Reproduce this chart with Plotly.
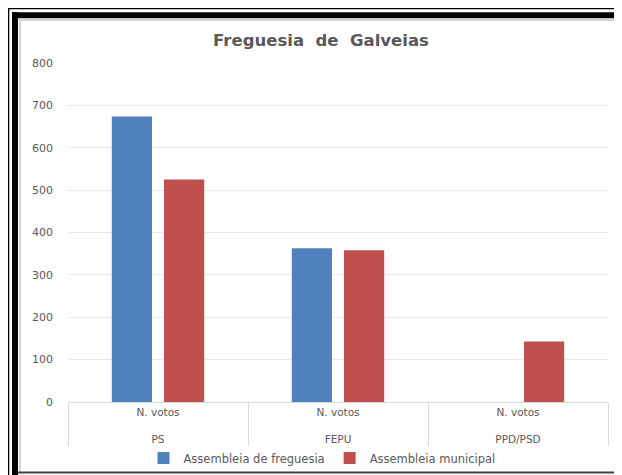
import plotly.graph_objects as go

# ---- data ----
parties = ["PS", "FEPU", "PPD/PSD"]
measure = ["N. votos<br> ", "N. votos<br> ", "N. votos<br> "]
assembleia_freguesia = [674, 363, None]
assembleia_municipal = [525, 358, 143]
y_ticks = [0, 100, 200, 300, 400, 500, 600, 700, 800]

OFF = 8  # page body margin
W, H = 622 - OFF, 475 - OFF
# plot area in page pixels: x 68..608, y 63..402
L, R = 68 - OFF, W - (608 - OFF)
T, B = 63 - OFF, H - (402 - OFF)
PW, PH = W - L - R, H - T - B

def px(x):  # page x -> paper
    return (x - OFF - L) / PW

def py(y):  # page y -> paper
    return (H - B - (y - OFF)) / PH

FONT = "DejaVu Sans"
GREY = "#595959"

fig = go.Figure()
fig.add_trace(go.Bar(
    name="Assembleia de freguesia",
    x=[parties, measure], y=assembleia_freguesia,
    marker=dict(color="#4f81bd", line=dict(width=0)),
))
fig.add_trace(go.Bar(
    name="Assembleia municipal",
    x=[parties, measure], y=assembleia_municipal,
    marker=dict(color="#c0504d", line=dict(width=0)),
))

def rect(x0, x1, y0, y1, color):
    return dict(type="rect", xref="paper", yref="paper",
                x0=px(x0), x1=px(x1), y0=py(y0), y1=py(y1),
                fillcolor=color, line=dict(width=0), layer="above")

shapes = [
    rect(7.3, 9.3, 7.5, 475, "black"),      # outer thin left
    rect(7.3, 622, 7.5, 9.3, "black"),      # outer thin top
    rect(12, 18, 12.3, 475, "black"),       # thick left
    rect(12, 622, 12.3, 18.3, "black"),     # thick top
    rect(19, 21, 19, 472, "#d4d4d4"),       # inner grey left
    rect(19, 622, 19, 21, "#d4d4d4"),       # inner grey top
    rect(18, 622, 471.5, 473.5, "#404040"), # bottom line
]

fig.update_layout(
    width=W, height=H,
    margin=dict(l=L, r=R, t=T, b=B, autoexpand=False),
    paper_bgcolor="white", plot_bgcolor="white",
    barmode="group", bargap=0.42, bargroupgap=0.23,
    title=dict(text="<b>Freguesia\u00a0\u00a0de\u00a0\u00a0Galveias</b>",
               x=(321 - OFF) / W, xref="container", xanchor="center",
               y=1 - (40 - OFF) / H, yref="container", yanchor="middle",
               font=dict(family=FONT, size=16.5, color=GREY)),
    font=dict(family=FONT, size=10, color=GREY),
    yaxis=dict(range=[0, 800], tickvals=y_ticks, showgrid=True,
               gridcolor="#e8e8e8", gridwidth=1, zeroline=False,
               showline=False, ticks="", ticklabelstandoff=14,
               tickfont=dict(family=FONT, size=11, color=GREY)),
    xaxis=dict(type="multicategory", showline=True, linecolor="#d9d9d9",
               linewidth=1, ticks="", showdividers=True,
               dividercolor="#d9d9d9", dividerwidth=1,
               tickfont=dict(family=FONT, size=10.5, color=GREY)),
    legend=dict(orientation="h", x=px(322), xanchor="center",
                y=py(458), yanchor="middle", bgcolor="rgba(0,0,0,0)",
                font=dict(family=FONT, size=11.5, color=GREY),
                itemwidth=30, traceorder="normal"),
    shapes=shapes,
)

fig.write_html("out.html")
